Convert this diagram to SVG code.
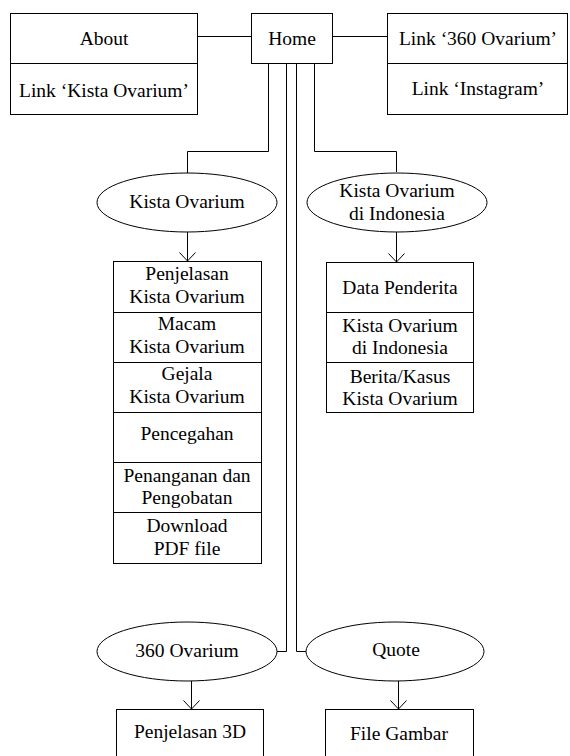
<svg xmlns="http://www.w3.org/2000/svg" width="570" height="756" viewBox="0 0 570 756">
<defs>
<style>
.b{fill:#fff;stroke:#000;stroke-width:1}
.c{fill:none;stroke:#000;stroke-width:1}
text{font-family:"Liberation Serif","Times New Roman",serif;font-size:19.5px;fill:#000;text-anchor:middle}
</style>
<marker id="ah" viewBox="0 0 10 18" refX="9" refY="9" markerWidth="10" markerHeight="18" markerUnits="userSpaceOnUse" orient="auto">
<path d="M0.5,1 L9,9 L0.5,17" fill="none" stroke="#000" stroke-width="1"/>
</marker>
</defs>
<rect width="570" height="756" fill="#fff"/>
<g id="connectors">
<path class="c" d="M197 36.5 H251"/>
<path class="c" d="M332 36.5 H387"/>
<path class="c" d="M268.5 63 V151.5 H187.5 V173"/>
<path class="c" d="M314.5 63 V151.5 H396.5 V172"/>
<path class="c" d="M286.5 63 V651.5 H277"/>
<path class="c" d="M296.5 63 V651.5 H306"/>
<path class="c" d="M187.5 232 V261" marker-end="url(#ah)"/>
<path class="c" d="M396.5 232 V262" marker-end="url(#ah)"/>
<path class="c" d="M191.5 681 V709" marker-end="url(#ah)"/>
<path class="c" d="M398.5 681 V709" marker-end="url(#ah)"/>
</g>
<g id="about">
<rect class="b" x="10.5" y="13.5" width="187" height="50"/>
<text x="104" y="45">About</text>
</g>
<g id="link-kista">
<rect class="b" x="10.5" y="63.5" width="187" height="51"/>
<text x="104" y="97">Link ‘Kista Ovarium’</text>
</g>
<g id="home">
<rect class="b" x="251.5" y="13.5" width="81" height="50"/>
<text x="292" y="45">Home</text>
</g>
<g id="link-360">
<rect class="b" x="387.5" y="13.5" width="180" height="50"/>
<text x="478" y="45">Link ‘360 Ovarium’</text>
</g>
<g id="link-instagram">
<rect class="b" x="387.5" y="63.5" width="180" height="51"/>
<text x="478" y="95">Link ‘Instagram’</text>
</g>
<g id="kista-ovarium">
<ellipse class="b" cx="187" cy="202.5" rx="90" ry="29.5"/>
<text x="187" y="208">Kista Ovarium</text>
</g>
<g id="kista-indonesia">
<ellipse class="b" cx="397" cy="202.5" rx="90" ry="29.5"/>
<text x="397" y="197">Kista Ovarium</text>
<text x="397" y="220">di Indonesia</text>
</g>
<g id="penjelasan">
<rect class="b" x="113.5" y="261.5" width="148" height="51"/>
<text x="187" y="280">Penjelasan</text>
<text x="187" y="303">Kista Ovarium</text>
</g>
<g id="macam">
<rect class="b" x="113.5" y="312.5" width="148" height="50"/>
<text x="187" y="330">Macam</text>
<text x="187" y="353">Kista Ovarium</text>
</g>
<g id="gejala">
<rect class="b" x="113.5" y="362.5" width="148" height="50"/>
<text x="187" y="380">Gejala</text>
<text x="187" y="403">Kista Ovarium</text>
</g>
<g id="pencegahan">
<rect class="b" x="113.5" y="412.5" width="148" height="50"/>
<text x="187" y="440">Pencegahan</text>
</g>
<g id="penanganan">
<rect class="b" x="113.5" y="462.5" width="148" height="50"/>
<text x="187" y="482">Penanganan dan</text>
<text x="187" y="504">Pengobatan</text>
</g>
<g id="download">
<rect class="b" x="113.5" y="512.5" width="148" height="51"/>
<text x="187" y="532">Download</text>
<text x="187" y="555">PDF file</text>
</g>
<g id="data-penderita">
<rect class="b" x="326.5" y="262.5" width="147" height="50"/>
<text x="400" y="294">Data Penderita</text>
</g>
<g id="kista-di-indonesia">
<rect class="b" x="326.5" y="312.5" width="147" height="50"/>
<text x="400" y="332">Kista Ovarium</text>
<text x="400" y="354">di Indonesia</text>
</g>
<g id="berita">
<rect class="b" x="326.5" y="362.5" width="147" height="50"/>
<text x="400" y="383">Berita/Kasus</text>
<text x="400" y="405">Kista Ovarium</text>
</g>
<g id="ovarium-360">
<ellipse class="b" cx="187" cy="651.5" rx="90" ry="29.5"/>
<text x="187" y="657">360 Ovarium</text>
</g>
<g id="quote">
<ellipse class="b" cx="395" cy="651.5" rx="89" ry="29.5"/>
<text x="396" y="656">Quote</text>
</g>
<g id="penjelasan-3d">
<rect class="b" x="116.5" y="709.5" width="147" height="60"/>
<text x="190" y="738">Penjelasan 3D</text>
</g>
<g id="file-gambar">
<rect class="b" x="325.5" y="709.5" width="148" height="60"/>
<text x="399" y="740">File Gambar</text>
</g>
</svg>
